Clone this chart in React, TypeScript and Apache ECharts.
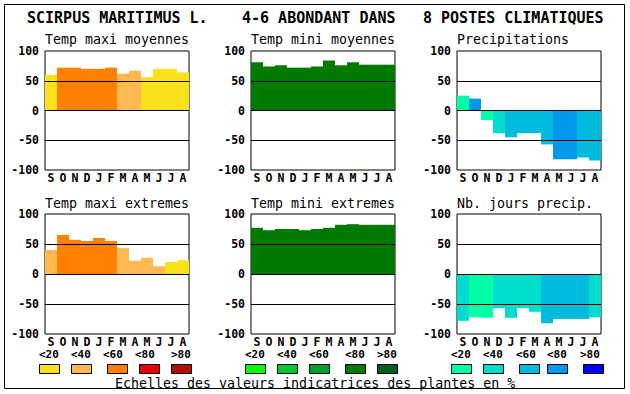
import React, { useEffect, useRef } from "react";
import * as echarts from "echarts";

const MONTHS = ["S", "O", "N", "D", "J", "F", "M", "A", "M", "J", "J", "A"];
const Y_TICKS = [-100, -50, 0, 50, 100];

const TEMP_COLORS = ["#f9e11b", "#ffb950", "#ff8000", "#e80000", "#b01000"];
const TMIN_COLORS = ["#00ff00", "#00c832", "#00a030", "#007a00", "#006020"];
const PREC_COLORS = ["#00ffa8", "#00ddcc", "#00bbdd", "#0099ee", "#0000ff"];
const LEGEND_LABELS = ["<20", "<40", "<60", "<80", ">80"];

const TMAX_MOY = [60, 72, 72, 70, 70, 72, 62, 67, 56, 70, 70, 64];
const TMAX_MOY_CLASS = [0, 2, 2, 2, 2, 2, 1, 1, 0, 0, 0, 0];
const TMIN_MOY = [81, 74, 76, 72, 72, 74, 84, 76, 81, 77, 77, 77];
const TMIN_MOY_CLASS = [3, 3, 3, 3, 3, 3, 3, 3, 3, 3, 3, 3];
const PRECIP = [25, 20, -16, -38, -45, -38, -38, -57, -82, -82, -79, -84];
const PRECIP_CLASS = [0, 3, 0, 1, 2, 2, 2, 2, 3, 3, 2, 2];
const TMAX_EXT = [40, 65, 57, 55, 60, 55, 43, 22, 27, 13, 20, 23];
const TMAX_EXT_CLASS = [1, 2, 2, 2, 2, 2, 1, 1, 1, 1, 0, 0];
const TMIN_EXT = [77, 73, 75, 75, 73, 75, 77, 82, 83, 82, 82, 82];
const TMIN_EXT_CLASS = [3, 3, 3, 3, 3, 3, 3, 3, 3, 3, 3, 3];
const NB_JOURS = [-78, -72, -73, -57, -73, -57, -63, -82, -75, -75, -75, -72];
const NB_JOURS_CLASS = [1, 0, 0, 1, 1, 1, 1, 2, 2, 2, 2, 1];

const TITLES = ["SCIRPUS MARITIMUS L.", "4-6 ABONDANT DANS", "8 POSTES CLIMATIQUES"];
const FOOTER = "Echelles des valeurs indicatrices des plantes en %";

const MONO = "'DejaVu Sans Mono', monospace";

const PANELS = [
  { name: "Temp maxi moyennes", values: TMAX_MOY, classes: TMAX_MOY_CLASS, palette: TEMP_COLORS, left: 45, top: 51, height: 119 },
  { name: "Temp mini moyennes", values: TMIN_MOY, classes: TMIN_MOY_CLASS, palette: TMIN_COLORS, left: 251, top: 51, height: 119 },
  { name: "Precipitations", values: PRECIP, classes: PRECIP_CLASS, palette: PREC_COLORS, left: 457, top: 51, height: 119 },
  { name: "Temp maxi extremes", values: TMAX_EXT, classes: TMAX_EXT_CLASS, palette: TEMP_COLORS, left: 45, top: 214, height: 120 },
  { name: "Temp mini extremes", values: TMIN_EXT, classes: TMIN_EXT_CLASS, palette: TMIN_COLORS, left: 251, top: 214, height: 120 },
  { name: "Nb. jours precip.", values: NB_JOURS, classes: NB_JOURS_CLASS, palette: PREC_COLORS, left: 457, top: 214, height: 120 },
];

const LEGENDS = [
  { palette: TEMP_COLORS, boxX: [39, 71, 107, 139, 171], labelX: [39, 71, 103, 135, 171] },
  { palette: TMIN_COLORS, boxX: [245, 277, 309, 345, 377], labelX: [245, 277, 309, 345, 377] },
  { palette: PREC_COLORS, boxX: [451, 483, 519, 547, 583], labelX: [451, 483, 516, 547, 580] },
];

export default function App() {
  const ref = useRef<HTMLDivElement>(null);

  useEffect(() => {
    if (!ref.current) return;
    const chart = echarts.init(ref.current, null, { renderer: "svg" });

    const graphic: any[] = [
      {
        type: "rect",
        shape: { x: 4.5, y: 4.5, width: 620, height: 384 },
        style: { fill: "none", stroke: "#000", lineWidth: 1 },
        z: 100,
      },
    ];
    const titleX = [27, 242, 423];
    TITLES.forEach((t, i) => {
      graphic.push({
        type: "text",
        x: titleX[i],
        y: 18,
        style: { text: t, font: `bold 15px ${MONO}`, fill: "#000", verticalAlign: "middle", align: "left" },
      });
    });
    PANELS.forEach((p) => {
      graphic.push({
        type: "text",
        x: p.left,
        y: p.top < 100 ? 39 : 203,
        style: { text: p.name, font: `13.3px ${MONO}`, fill: "#000", verticalAlign: "middle", align: "left" },
      });
    });
    LEGENDS.forEach((lg) => {
      lg.palette.forEach((c, i) => {
        graphic.push({
          type: "text",
          x: lg.labelX[i],
          y: 354,
          style: { text: LEGEND_LABELS[i], font: `bold 11px ${MONO}`, fill: "#000", verticalAlign: "middle", align: "left" },
        });
        graphic.push({
          type: "rect",
          shape: { x: lg.boxX[i] + 0.5, y: 364.5, width: 20, height: 9 },
          style: { fill: c, stroke: "#000", lineWidth: 1 },
        });
      });
    });
    graphic.push({
      type: "text",
      x: 115,
      y: 383,
      style: { text: FOOTER, font: `13.3px ${MONO}`, fill: "#000", verticalAlign: "middle", align: "left" },
    });

    const option: any = {
      animation: false,
      backgroundColor: "#fff",
      grid: PANELS.map((p) => ({
        left: p.left,
        top: p.top,
        width: 144,
        height: p.height,
        show: true,
        borderColor: "#000",
        borderWidth: 1,
        backgroundColor: "transparent",
        containLabel: false,
      })),
      xAxis: PANELS.map((_, i) => ({
        type: "category",
        gridIndex: i,
        data: MONTHS,
        axisTick: { show: false },
        axisLine: { show: false },
        splitLine: { show: false },
        axisLabel: {
          interval: 0,
          margin: 2,
          color: "#000",
          fontFamily: MONO,
          fontWeight: "bold",
          fontSize: 11.5,
        },
      })),
      yAxis: PANELS.map((_, i) => ({
        type: "value",
        gridIndex: i,
        min: Y_TICKS[0],
        max: Y_TICKS[Y_TICKS.length - 1],
        interval: 50,
        axisTick: { show: false },
        axisLine: { show: false },
        splitLine: { show: false },
        axisLabel: {
          margin: 6,
          color: "#000",
          fontFamily: MONO,
          fontWeight: "bold",
          fontSize: 11.5,
        },
      })),
      series: PANELS.map((p, i) => ({
        type: "bar",
        xAxisIndex: i,
        yAxisIndex: i,
        barCategoryGap: "0%",
        barGap: "0%",
        data: p.values.map((v, k) => ({ value: v, itemStyle: { color: p.palette[p.classes[k]] } })),
        markLine: {
          silent: true,
          symbol: "none",
          label: { show: false },
          lineStyle: { color: "#000", width: 1, type: "solid" },
          data: [{ yAxis: 50 }, { yAxis: 0 }, { yAxis: -50 }],
        },
      })),
      graphic,
    };

    chart.setOption(option);
    return () => chart.dispose();
  }, []);

  return (
    <div
      ref={ref}
      style={{ position: "absolute", left: 0, top: 0, width: 630, height: 394, background: "#fff" }}
    />
  );
}
